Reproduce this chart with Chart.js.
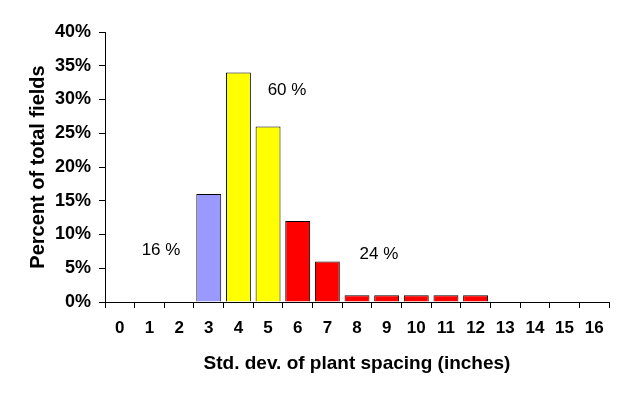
<!DOCTYPE html>
<html lang="en">
<head>
    <meta charset="UTF-8">
    <title>Plant spacing</title>
    <script src="https://cdn.jsdelivr.net/npm/chart.js"></script>
    <style>
        html, body { margin: 0; padding: 0; background: #fff; }
        .chart-container { width: 624px; height: 394px; }
    </style>
</head>
<body>
    <div class="chart-container">
        <canvas id="spacingChart"></canvas>
    </div>

    <script>
        const categories = ['0', '1', '2', '3', '4', '5', '6', '7', '8', '9', '10', '11', '12', '13', '14', '15', '16'];
        const percentFields = [0, 0, 0, 16, 34, 26, 12, 6, 1, 1, 1, 1, 1, 0, 0, 0, 0];
        const barColors = ['#FF0000', '#FF0000', '#FF0000', '#9999FF', '#FFFF00', '#FFFF00',
            '#FF0000', '#FF0000', '#FF0000', '#FF0000', '#FF0000', '#FF0000', '#FF0000',
            '#FF0000', '#FF0000', '#FF0000', '#FF0000'];

        // group labels: text, category position, value position
        const groupLabels = ['16 %', '60 %', '24 %'];
        const groupX = [1.39, 5.64, 8.74];
        const groupY = [7.6, 31.4, 7];

        const groupLabelPlugin = {
            id: 'groupLabels',
            afterDatasetsDraw(chart) {
                const ctx = chart.ctx;
                const xs = chart.scales.x, ys = chart.scales.y;
                ctx.save();
                ctx.font = '17px "Liberation Sans", Arial, sans-serif';
                ctx.fillStyle = '#000';
                ctx.textAlign = 'center';
                ctx.textBaseline = 'middle';
                groupLabels.forEach((t, i) => {
                    ctx.fillText(t, xs.getPixelForValue(groupX[i]), ys.getPixelForValue(groupY[i]));
                });
                ctx.restore();
            }
        };

        const font = { family: '"Liberation Sans", Arial, sans-serif', weight: 'bold' };

        new Chart(document.getElementById('spacingChart'), {
            type: 'bar',
            data: {
                labels: categories,
                datasets: [{
                    data: percentFields,
                    backgroundColor: barColors,
                    borderColor: '#000',
                    borderWidth: 1,
                    borderSkipped: 'bottom',
                    barPercentage: 0.84,
                    categoryPercentage: 1
                }]
            },
            options: {
                responsive: true,
                maintainAspectRatio: false,
                animation: false,
                layout: { padding: { top: 32, right: 15, left: 16, bottom: 0 } },
                plugins: { legend: { display: false }, tooltip: { enabled: false } },
                scales: {
                    x: {
                        grid: { drawOnChartArea: false, color: '#000', tickLength: 6, offset: true },
                        border: { color: '#000', width: 1 },
                        ticks: { color: '#000', font: { ...font, size: 17 }, padding: 10, maxRotation: 0 },
                        title: { display: true, text: 'Std. dev. of plant spacing (inches)', color: '#000',
                                 font: { ...font, size: 19 }, padding: { top: 4, bottom: 19 } },
                        afterFit(scale) { scale.height = 92; }
                    },
                    y: {
                        min: 0, max: 40,
                        grid: { drawOnChartArea: false, color: '#000', tickLength: 6 },
                        border: { color: '#000', width: 1 },
                        ticks: { stepSize: 5, color: '#000', font: { ...font, size: 18 }, padding: 8,
                                 callback: v => v + '%' },
                        title: { display: true, text: 'Percent of total fields', color: '#000',
                                 font: { ...font, size: 20 }, padding: { top: 10, bottom: 8 } },
                        afterFit(scale) { scale.width = 89; }
                    }
                }
            },
            plugins: [groupLabelPlugin]
        });
    </script>
</body>
</html>
